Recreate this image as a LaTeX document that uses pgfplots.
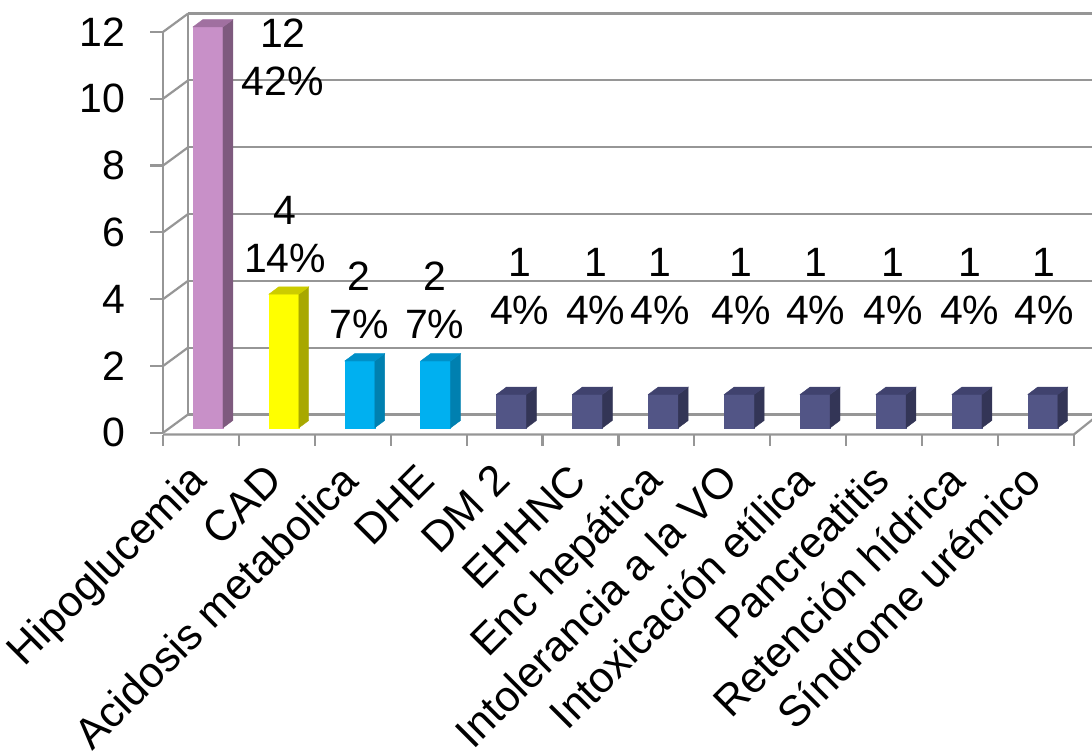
\documentclass[border=0pt]{standalone}
\usepackage{fontspec}
\setmainfont{Liberation Sans}
\usepackage{pgfplots}
\pgfplotsset{compat=1.18}
\definecolor{gridgray}{RGB}{150,150,150}
\definecolor{pinkF}{RGB}{200,144,200}
\definecolor{pinkS}{RGB}{126,90,126}
\definecolor{pinkT}{RGB}{160,112,160}
\definecolor{yelF}{RGB}{255,255,0}
\definecolor{yelS}{RGB}{168,168,0}
\definecolor{yelT}{RGB}{204,204,0}
\definecolor{bluF}{RGB}{0,176,240}
\definecolor{bluS}{RGB}{0,128,176}
\definecolor{bluT}{RGB}{0,144,200}
\definecolor{navF}{RGB}{82,85,134}
\definecolor{navS}{RGB}{51,53,86}
\definecolor{navT}{RGB}{64,66,110}
\tikzset{
  gl/.style={draw=gridgray, line width=2.2pt},
  dl/.style={align=center, inner sep=0pt, font=\fontsize{41}{48}\selectfont},
}
\newcommand{\threedbar}[5]{%
  \pgfmathsetmacro\xa{#1-0.105}%
  \pgfmathsetmacro\xb{#1+0.29}%
  \pgfmathsetmacro\xc{#1+0.42}%
  \pgfmathsetmacro\xd{#1+0.025}%
  \pgfmathsetmacro\yb{#2+0.15}%
  \pgfmathsetmacro\yd{#2+0.37}%
  \edef\tmp{%
   \noexpand\addplot[fill=#3,draw=#3,line width=0.4pt] coordinates {(\xa,0.15) (\xb,0.15) (\xb,\yb) (\xa,\yb)} -- cycle;
   \noexpand\addplot[fill=#4,draw=#4,line width=0.4pt] coordinates {(\xb,0.15) (\xc,0.37) (\xc,\yd) (\xb,\yb)} -- cycle;
   \noexpand\addplot[fill=#5,draw=#5,line width=0.4pt] coordinates {(\xa,\yb) (\xb,\yb) (\xc,\yd) (\xd,\yd)} -- cycle;}%
  \tmp}
\begin{document}
\begin{tikzpicture}
\begin{axis}[
  scale only axis, width=911pt, height=401pt,
  xmin=-0.5, xmax=11.5, ymin=0, ymax=12,
  clip=false,
  axis line style={draw=none}, tick style={draw=none},
  unbounded coords=jump,
  /pgf/number format/assume math mode=true,
  xtick={0,...,11},
  xticklabels={Hipoglucemia, CAD, Acidosis metabolica, DHE, DM 2, EHHNC, Enc hepática, Intolerancia a la VO, Intoxicación etílica, Pancreatitis, Retención hídrica, Síndrome urémico},
  xticklabel style={xshift=5.7pt, yshift=-47.7pt, rotate=45, anchor=east, inner sep=0pt, font=\fontsize{43}{48}\selectfont, text height=0.72em, text depth=0.05em},
  ytick={0,2,...,12},
  yticklabel style={xshift=-38pt, anchor=east, inner sep=0pt, font=\fontsize{41}{48}\selectfont},
]
% back wall horizontal gridlines
\addplot[gl] coordinates {(-0.17,0.55) (11.83,0.55) (0,nan) (-0.17,2.55) (11.83,2.55) (0,nan) (-0.17,4.55) (11.83,4.55) (0,nan) (-0.17,6.55) (11.83,6.55) (0,nan) (-0.17,8.55) (11.83,8.55) (0,nan) (-0.17,10.55) (11.83,10.55) (0,nan) (-0.17,12.55) (11.83,12.55)};
% side wall diagonals
\addplot[gl] coordinates {(-0.5,0) (-0.17,0.55) (0,nan) (-0.5,2) (-0.17,2.55) (0,nan) (-0.5,4) (-0.17,4.55) (0,nan) (-0.5,6) (-0.17,6.55) (0,nan) (-0.5,8) (-0.17,8.55) (0,nan) (-0.5,10) (-0.17,10.55) (0,nan) (-0.5,12) (-0.17,12.55)};
% back wall left edge and front y axis
\addplot[gl] coordinates {(-0.17,0.55) (-0.17,12.55)};
\addplot[gl] coordinates {(-0.5,0) (-0.5,12)};
% y ticks
\addplot[gl] coordinates {(-0.67,0) (-0.5,0) (0,nan) (-0.67,2) (-0.5,2) (0,nan) (-0.67,4) (-0.5,4) (0,nan) (-0.67,6) (-0.5,6) (0,nan) (-0.67,8) (-0.5,8) (0,nan) (-0.67,10) (-0.5,10) (0,nan) (-0.67,12) (-0.5,12)};
% floor front edge and right edge
\addplot[gl] coordinates {(-0.5,-0.05) (11.5,-0.05) (11.83,0.55)};
% x ticks
\addplot[gl] coordinates {(-0.5,-0.05) (-0.5,-0.38) (0,nan) (0.5,-0.05) (0.5,-0.38) (0,nan) (1.5,-0.05) (1.5,-0.38) (0,nan) (2.5,-0.05) (2.5,-0.38) (0,nan) (3.5,-0.05) (3.5,-0.38) (0,nan) (4.5,-0.05) (4.5,-0.38) (0,nan) (5.5,-0.05) (5.5,-0.38) (0,nan) (6.5,-0.05) (6.5,-0.38) (0,nan) (7.5,-0.05) (7.5,-0.38) (0,nan) (8.5,-0.05) (8.5,-0.38) (0,nan) (9.5,-0.05) (9.5,-0.38) (0,nan) (10.5,-0.05) (10.5,-0.38) (0,nan) (11.5,-0.05) (11.5,-0.38)};
% bars: index, value, front, side, top
\threedbar{0}{12}{pinkF}{pinkS}{pinkT}
\threedbar{1}{4}{yelF}{yelS}{yelT}
\threedbar{2}{2}{bluF}{bluS}{bluT}
\threedbar{3}{2}{bluF}{bluS}{bluT}
\threedbar{4}{1}{navF}{navS}{navT}
\threedbar{5}{1}{navF}{navS}{navT}
\threedbar{6}{1}{navF}{navS}{navT}
\threedbar{7}{1}{navF}{navS}{navT}
\threedbar{8}{1}{navF}{navS}{navT}
\threedbar{9}{1}{navF}{navS}{navT}
\threedbar{10}{1}{navF}{navS}{navT}
\threedbar{11}{1}{navF}{navS}{navT}
% data labels
\node[dl] at (axis cs:1.08,11.24) {12\\42\%};
\node[dl] at (axis cs:1.11,5.95) {4\\14\%};
\node[dl] at (axis cs:2.08,3.98) {2\\7\%};
\node[dl] at (axis cs:3.08,3.98) {2\\7\%};
\node[dl] at (axis cs:4.20,4.37) {1\\4\%};
\node[dl] at (axis cs:5.20,4.37) {1\\4\%};
\node[dl] at (axis cs:6.05,4.37) {1\\4\%};
\node[dl] at (axis cs:7.12,4.37) {1\\4\%};
\node[dl] at (axis cs:8.10,4.37) {1\\4\%};
\node[dl] at (axis cs:9.12,4.37) {1\\4\%};
\node[dl] at (axis cs:10.13,4.37) {1\\4\%};
\node[dl] at (axis cs:11.11,4.37) {1\\4\%};
\coordinate (bbsw) at (axis cs:-2.648,-9.605);
\coordinate (bbne) at (axis cs:11.74,12.956);
\end{axis}
\pgfresetboundingbox
\useasboundingbox (bbsw) rectangle (bbne);
\end{tikzpicture}
\end{document}
